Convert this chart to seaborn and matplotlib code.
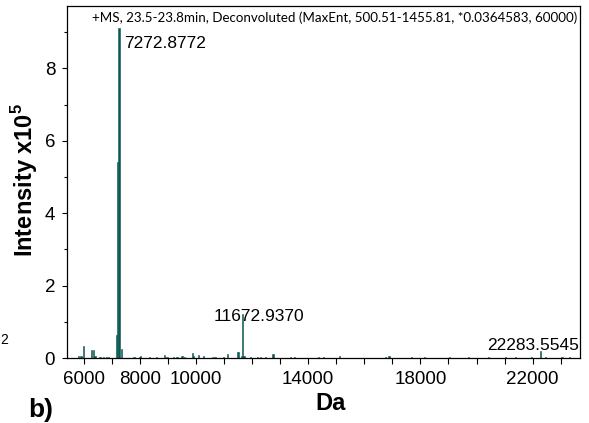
import matplotlib
matplotlib.use("Agg")
import matplotlib.pyplot as plt
import pandas as pd
import seaborn as sns

# ---- data (mass in Da, intensity in units of 1e5) ----
mass = [5800, 5885, 5990, 6250, 6330, 6395, 6590, 6690, 6785, 6890,
        7180, 7225, 7272.8772, 7320, 7360,
        7775, 7960, 8030, 8320, 8615, 8890, 8960, 9185, 9340, 9495, 9600,
        9860, 9925, 10100, 10270, 10600, 10650, 11005, 11135,
        11490, 11530, 11600, 11672.9370, 11710, 11940, 12205, 12310, 12490,
        12760, 13350, 13490, 14380, 14520, 15130, 16735, 16880, 17690,
        18160, 19050, 19700, 20420, 21015, 21370, 21970, 22283.5545,
        22440, 23035, 23330]
intensity = [0.05, 0.06, 0.32, 0.21, 0.23, 0.06, 0.04, 0.03, 0.03, 0.03,
             0.63, 5.41, 9.12, 0.16, 0.10,
             0.03, 0.03, 0.05, 0.04, 0.03, 0.07, 0.04, 0.03, 0.03, 0.05, 0.03,
             0.15, 0.06, 0.07, 0.06, 0.03, 0.03, 0.03, 0.10,
             0.17, 0.16, 0.05, 1.21, 0.05, 0.03, 0.03, 0.03, 0.03,
             0.10, 0.03, 0.03, 0.03, 0.03, 0.05, 0.03, 0.05, 0.03,
             0.03, 0.03, 0.03, 0.03, 0.03, 0.03, 0.03, 0.19,
             0.03, 0.03, 0.03]

x_tick_values = [6000, 7000, 8000, 9000, 10000, 11000, 12000, 13000, 14000,
                 15000, 16000, 17000, 18000, 19000, 20000, 21000, 22000, 23000]
x_tick_labels = ["6000", "", "8000", "", "10000", "", "", "", "14000",
                 "", "", "", "18000", "", "", "", "22000", ""]
y_major = [0, 2, 4, 6, 8]
y_minor = [1, 3, 5, 7, 9]

peak_labels = ["7272.8772", "11672.9370", "22283.5545"]
peak_label_mass = [7272.8772, 11672.9370, 22283.5545]
peak_label_int = [9.12, 1.21, 0.19]
# offsets in points and alignment for each label
label_offsets = [(3.0, -14.8), (11.2, -4.8), (-5.5, 0.9)]
label_ha = ["left", "center", "center"]

title = "+MS, 23.5-23.8min, Deconvoluted (MaxEnt, 500.51-1455.81, *0.0364583, 60000)"
xlabel = "Da"
ylabel = r"Intensity x10$^\mathbf{5}$"

teal = "#0b5853"

sns.set_style("ticks")
plt.rcParams["font.family"] = ["Liberation Sans", "DejaVu Sans"]
plt.rcParams["mathtext.fontset"] = "custom"
plt.rcParams["mathtext.rm"] = "Liberation Sans"
plt.rcParams["mathtext.bf"] = "Liberation Sans:bold"
for k in ["text.color", "axes.labelcolor", "xtick.color", "ytick.color",
          "axes.edgecolor"]:
    plt.rcParams[k] = "black"

W, H = 589, 423
fig = plt.figure(figsize=(W / 100, H / 100), dpi=100)
L, R, T, B = 67, 580, 6, 358
ax = fig.add_axes([L / W, 1 - B / H, (R - L) / W, (B - T) / H])

df = pd.DataFrame({"mass": mass, "intensity": intensity})
sns.histplot(data=df, x="mass", weights="intensity", binwidth=45,
             binrange=(5340, 23700), color=teal, alpha=1, edgecolor=teal,
             linewidth=0.4, ax=ax)

ax.set_xlim(5400, 23690)
ax.set_ylim(0, 9.72)

ax.set_xticks(x_tick_values)
ax.set_xticklabels(x_tick_labels)
ax.set_yticks(y_major)
ax.set_yticks(y_minor, minor=True)
ax.tick_params(axis="x", which="major", direction="out", length=4, width=0.8,
               labelsize=13.5, pad=5, color="black", labelcolor="black")
ax.tick_params(axis="y", which="major", direction="out", length=3.5, width=0.8,
               labelsize=13.5, pad=5, color="black", labelcolor="black")
ax.tick_params(axis="y", which="minor", direction="out", length=2.5, width=0.8,
               color="black")

for s in ax.spines.values():
    s.set_linewidth(0.9)
    s.set_color("black")

ax.set_xlabel(xlabel, fontsize=17, fontweight="bold", color="black")
ax.xaxis.label.set_verticalalignment("baseline")
ax.xaxis.set_label_coords((330.8 - L) / (R - L), -(410 - B) / (B - T))
ax.set_ylabel(ylabel, fontsize=17, fontweight="bold", color="black")
ax.yaxis.set_label_coords((40 - L) / (R - L), (B - 180) / (B - T))

ax.text((334.5 - L) / (R - L), 1 - (17.3 - T) / (B - T), title,
        transform=ax.transAxes, ha="center", va="center",
        fontsize=9.6, family=["Lato", "DejaVu Sans"], color="black")

for lab, mx, my, off, ha in zip(peak_labels, peak_label_mass, peak_label_int,
                                label_offsets, label_ha):
    ax.annotate(lab, xy=(mx, my), xytext=off, textcoords="offset points",
                ha=ha, va="baseline", fontsize=12.5, color="black")

fig.text(28 / W, (H - 417) / H, "b)", fontsize=19, fontweight="bold",
         ha="left", va="baseline", color="black")
fig.text(0.5 / W, (H - 340) / H, "2", fontsize=10, ha="left", va="center",
         color="black")

fig.savefig("out.png", dpi=100)
